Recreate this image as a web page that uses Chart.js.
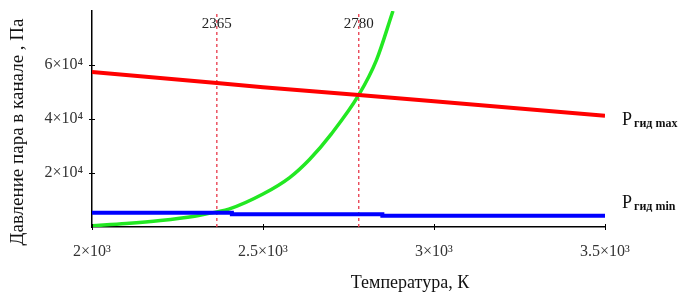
<!DOCTYPE html>
<html>
<head>
<meta charset="utf-8">
<script src="https://cdn.jsdelivr.net/npm/chart.js@4"></script>
<style>
body{margin:0;background:#fff;}
</style>
</head>
<body>
<canvas id="chart" width="696" height="297"></canvas>
<script>
// values
const maxTemps = [2000, 2365, 2500, 2780, 3000, 3500];
const maxPressure = [57400, 53300, 51800, 48900, 46600, 41200];

const minTemps = [2000, 2409, 2849, 3284, 3500];
const minPressure = [5700, 5300, 4700, 4200, 4200];

const vaporTemps = [2000, 2100, 2200, 2300, 2365, 2400, 2500, 2578, 2636, 2700, 2780, 2832, 2880];
const vaporPressure = [500, 1300, 2400, 4000, 5600, 6600, 12200, 18300, 25000, 34500, 48900, 61900, 80000];

const markTemps = [2365, 2780];

const xTicks = [2000, 2500, 3000, 3500];
const xTickLabels = ["2×10³", "2.5×10³", "3×10³", "3.5×10³"];
const yTicks = [20000, 40000, 60000];
const yTickLabels = ["2×10⁴", "4×10⁴", "6×10⁴"];

const serif = "'Liberation Serif', 'DejaVu Serif', serif";

function pts(xs, ys){
return xs.map((x, i) => ({x: x, y: ys[i]}));
}

const markSets = markTemps.map(t => ({
data: [{x: t, y: 0}, {x: t, y: 80000}],
borderColor: '#e8384a',
borderWidth: 1.3,
borderDash: [3, 3],
pointRadius: 0
}));

const extras = {
id: 'extras',
afterDraw(chart){
const c = chart.ctx;
const xs = chart.scales.x;
const ys = chart.scales.y;
const area = chart.chartArea;
c.save();
c.fillStyle = '#222';
c.font = '15px ' + serif;
c.textAlign = 'center';
c.textBaseline = 'alphabetic';
markTemps.forEach(t => {
c.fillText(String(t), xs.getPixelForValue(t), 28);
});

// small cross ticks on the axes
c.strokeStyle = '#000';
c.lineWidth = 1;
yTicks.forEach(v => {
const y = Math.round(ys.getPixelForValue(v)) + 0.5;
c.beginPath();
c.moveTo(area.left - 3, y);
c.lineTo(area.left + 3, y);
c.stroke();
});
xTicks.forEach(v => {
const x = Math.round(xs.getPixelForValue(v)) + 0.5;
c.beginPath();
c.moveTo(x, area.bottom - 3);
c.lineTo(x, area.bottom + 3);
c.stroke();
});

// axis titles
c.fillStyle = '#111';
c.font = '18px ' + serif;
c.textAlign = 'center';
c.textBaseline = 'middle';
c.fillText('Температура, К', 410, 283);
c.save();
c.translate(18, 132);
c.rotate(-Math.PI / 2);
c.font = '19px ' + serif;
c.fillText('Давление пара в канале , Па', 0, 0);
c.restore();

// series names
c.textAlign = 'left';
c.textBaseline = 'alphabetic';
[['гид max', 125], ['гид min', 208]].forEach(([sub, y]) => {
c.font = '18px ' + serif;
c.fillText('P', 622, y);
c.font = '600 12px ' + serif;
c.fillText(sub, 634, y + 2);
});
c.restore();
}
};

new Chart(document.getElementById('chart'), {
type: 'line',
data: {
datasets: [
{
data: pts(maxTemps, maxPressure),
borderColor: '#ff0000',
borderWidth: 4,
pointRadius: 0
},
{
data: pts(minTemps, minPressure),
borderColor: '#0000ff',
borderWidth: 4,
stepped: 'after',
pointRadius: 0
},
{
data: pts(vaporTemps, vaporPressure),
borderColor: '#22e822',
borderWidth: 3.5,
cubicInterpolationMode: 'monotone',
pointRadius: 0
},
...markSets
]
},
options: {
responsive: false,
animation: false,
layout: {padding: {left: 0, right: 91, top: 11, bottom: 0}},
plugins: {legend: {display: false}, tooltip: {enabled: false}},
scales: {
x: {
type: 'linear',
min: 2000,
max: 3500,
afterBuildTicks: s => { s.ticks = xTicks.map(v => ({value: v})); },
afterFit: s => { s.height = 70; },
ticks: {
callback: v => xTickLabels[xTicks.indexOf(v)] || '',
font: {family: serif, size: 16},
color: '#333',
padding: 7,
maxRotation: 0,
autoSkip: false
},
grid: {display: false},
border: {display: true, color: '#000', width: 1.5}
},
y: {
min: 0,
max: 80000,
afterBuildTicks: s => { s.ticks = yTicks.map(v => ({value: v})); },
afterFit: s => { s.width = 92; },
ticks: {
callback: v => yTickLabels[yTicks.indexOf(v)] || '',
font: {family: serif, size: 16},
color: '#333',
padding: 1
},
grid: {display: false},
border: {display: true, color: '#000', width: 1.5}
}
}
},
plugins: [extras]
});
</script>
</body>
</html>
